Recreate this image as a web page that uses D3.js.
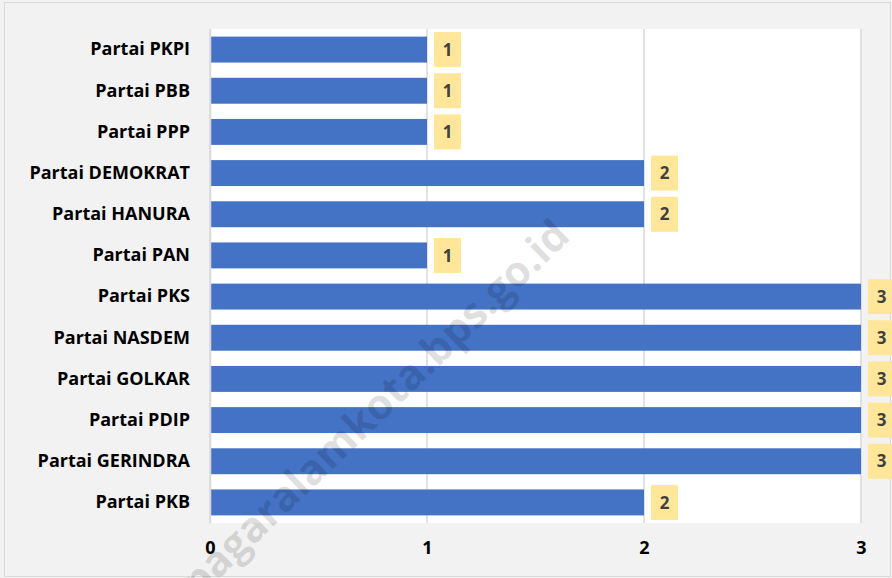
<!DOCTYPE html>
<html>
<head>
<meta charset="utf-8">
<script src="https://cdn.jsdelivr.net/npm/d3@7"></script>
<style>
  body { margin: 0; background: #ffffff; }
  svg { display: block; }
</style>
</head>
<body>
<div class="graph"></div>
<script>
// data
var parties = ["Partai PKPI", "Partai PBB", "Partai PPP", "Partai DEMOKRAT", "Partai HANURA",
               "Partai PAN", "Partai PKS", "Partai NASDEM", "Partai GOLKAR", "Partai PDIP",
               "Partai GERINDRA", "Partai PKB"];
var seats = [1, 1, 1, 2, 2, 1, 3, 3, 3, 3, 3, 2];
var xTicks = [0, 1, 2, 3];

var W = 892, H = 578;
var margin = {top: 29, right: 31, bottom: 55, left: 210},
    width = W - margin.left - margin.right,
    height = H - margin.top - margin.bottom;

var svg = d3.select("div.graph").append("svg")
    .attr("width", W)
    .attr("height", H);

// chart background + frame
svg.append("rect")
    .attr("x", 0).attr("y", 0).attr("width", W).attr("height", H)
    .attr("fill", "#f2f2f2");
svg.append("rect")
    .attr("x", 4.5).attr("y", 2.5).attr("width", W - 6).attr("height", H - 4)
    .attr("fill", "none").attr("stroke", "#d9d9d9");

var g = svg.append("g")
    .attr("transform", "translate(" + margin.left + "," + margin.top + ")");

g.append("rect")
    .attr("width", width).attr("height", height)
    .attr("fill", "#ffffff");

var x = d3.scaleLinear().domain([0, 3]).range([0, width]);
var y = d3.scaleBand().domain(parties).range([0, height]).paddingInner(0.37).paddingOuter(0.185);

// gridlines
g.selectAll("line.grid")
    .data(xTicks)
    .enter().append("line")
      .attr("class", "grid")
      .attr("x1", function(d) { return x(d); })
      .attr("x2", function(d) { return x(d); })
      .attr("y1", 0).attr("y2", height)
      .attr("stroke", "#d9d9d9").attr("stroke-width", 1.5);

// bars
var data = parties.map(function(p, i) { return {party: p, value: seats[i]}; });

g.selectAll("rect.bar")
    .data(data)
    .enter().append("rect")
      .attr("class", "bar")
      .attr("x", 0)
      .attr("y", function(d) { return y(d.party); })
      .attr("width", function(d) { return x(d.value); })
      .attr("height", y.bandwidth())
      .attr("fill", "#4472c4");

// value labels in yellow boxes
var lab = g.selectAll("g.lab")
    .data(data)
    .enter().append("g")
      .attr("class", "lab")
      .attr("transform", function(d) {
        return "translate(" + (x(d.value) + 7) + "," + (y(d.party) + y.bandwidth() / 2) + ")";
      });
lab.append("rect")
    .attr("x", 0).attr("y", -17.5).attr("width", 27).attr("height", 35)
    .attr("fill", "#ffe699");
lab.append("text")
    .attr("x", 13.5).attr("y", 0).attr("dy", "0.36em")
    .attr("text-anchor", "middle")
    .style("font-family", "'Open Sans', sans-serif")
    .style("font-weight", "bold")
    .style("font-size", "17px")
    .attr("fill", "#404040")
    .text(function(d) { return d.value; });

// y axis
var yAxis = g.append("g")
    .call(d3.axisLeft(y).tickSize(0).tickPadding(20));
yAxis.select(".domain").attr("stroke", "#d9d9d9").attr("stroke-width", 1.5);
yAxis.selectAll("text")
    .style("font-family", "'Open Sans', sans-serif")
    .style("font-weight", "bold")
    .style("font-size", "18px")
    .attr("fill", "#000");

// x axis
var xAxis = g.append("g")
    .attr("transform", "translate(0," + height + ")")
    .call(d3.axisBottom(x).tickValues(xTicks).tickFormat(d3.format("d")).tickSize(0).tickPadding(18));
xAxis.select(".domain").remove();
xAxis.selectAll("text")
    .style("font-family", "'Open Sans', sans-serif")
    .style("font-weight", "bold")
    .style("font-size", "18px")
    .attr("fill", "#000");

// watermark
svg.append("text")
    .attr("transform", "translate(572,238) rotate(-44)")
    .attr("text-anchor", "end")
    .style("font-family", "'Open Sans', sans-serif")
    .style("font-weight", "bold")
    .style("font-size", "42px")
    .attr("fill", "#000")
    .attr("fill-opacity", 0.13)
    .text("pagaralamkota.bps.go.id");
</script>
</body>
</html>
